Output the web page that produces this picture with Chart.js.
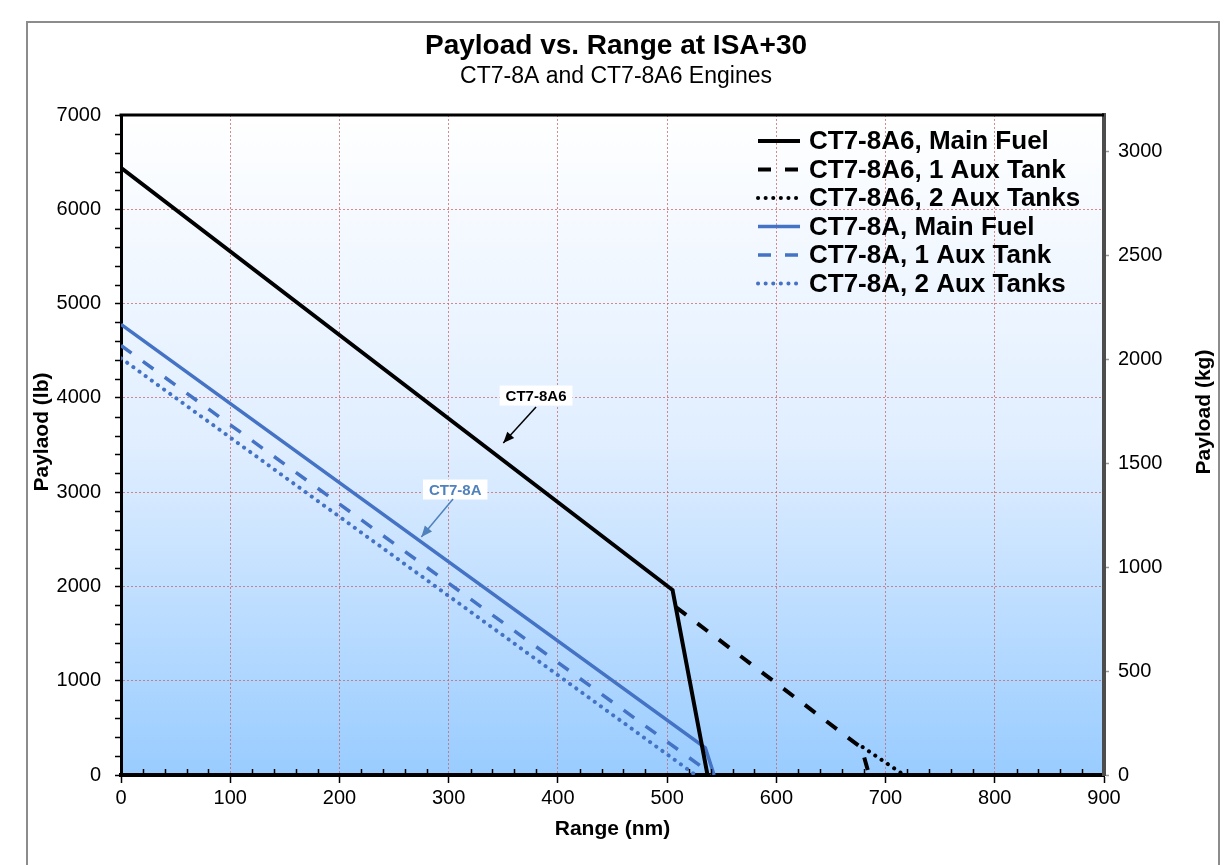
<!DOCTYPE html>
<html>
<head>
<meta charset="utf-8">
<title>Payload vs. Range at ISA+30</title>
<script src="https://cdn.jsdelivr.net/npm/chart.js@4.4.1/dist/chart.umd.min.js"></script>
<style>
  body { margin: 0; background: #fff; }
  canvas { display: block; }
</style>
</head>
<body>
<canvas id="chart" width="1232" height="865"></canvas>
<script>
// range (nm) and payload (lb)
const a6MainX = [0, 505, 537];
const a6MainY = [6440, 1962, 0];
const a6Aux1X = [508, 678, 685];
const a6Aux1Y = [1781, 288, 0];
const a6Aux2X = [679, 717];
const a6Aux2Y = [297, 0];
const a8MainX = [0, 535, 543];
const a8MainY = [4780, 288, 0];
const a8Aux1X = [0, 542];
const a8Aux1Y = [4555, 0];
const a8Aux2X = [0, 526];
const a8Aux2Y = [4420, 0];

const seriesNames = [
  'CT7-8A6, Main Fuel', 'CT7-8A6, 1 Aux Tank', 'CT7-8A6, 2 Aux Tanks',
  'CT7-8A, Main Fuel', 'CT7-8A, 1 Aux Tank', 'CT7-8A, 2 Aux Tanks'
];

const rangeMax = 900, rangeStep = 100, rangeMinorStep = 20;
const lbMax = 7000, lbStep = 1000, lbMinorStep = 200;
const kgTicks = [0, 500, 1000, 1500, 2000, 2500, 3000];
const LB_TO_KG = 0.45359237;

const BLACK = '#000000';
const BLUE = '#4472c4';
const FONT = "'Liberation Sans', Arial, sans-serif";
Chart.defaults.font.family = FONT;
Chart.defaults.color = '#000';

// label boxes with arrows, in data units
const notes = [
  { text: 'CT7-8A6', color: '#000', at: [380, 4024], from: [380, 3902], to: [350, 3521] },
  { text: 'CT7-8A', color: '#4f81bd', at: [306, 3028], from: [304, 2927], to: [275, 2524] }
];

function pts(xs, ys) {
  return xs.map((x, i) => ({ x: x, y: ys[i] }));
}

function series(label, xs, ys, color, style) {
  const ds = {
    label: label,
    data: pts(xs, ys),
    borderColor: color,
    backgroundColor: color,
    borderWidth: color === BLACK ? 4 : 3.5,
    pointRadius: 0,
    fill: false,
    tension: 0
  };
  if (style === 'dash') {
    ds.borderDash = [13, 14];
  } else if (style === 'dot') {
    ds.borderDash = [0.1, 7.5];
    ds.borderCapStyle = 'round';
    ds.borderWidth = 4;
  }
  return ds;
}

const frame = {
  id: 'frame',
  beforeDraw(chart) {
    const { ctx, chartArea: a } = chart;
    ctx.save();
    ctx.fillStyle = '#fff';
    ctx.fillRect(0, 0, chart.width, chart.height);
    const grad = ctx.createLinearGradient(0, a.top, 0, a.bottom);
    grad.addColorStop(0, '#ffffff');
    grad.addColorStop(0.5, '#e0eeff');
    grad.addColorStop(1, '#99ccff');
    ctx.fillStyle = grad;
    ctx.fillRect(a.left, a.top, a.right - a.left, a.bottom - a.top);
    // outer chart border
    ctx.strokeStyle = '#8c8c8c';
    ctx.lineWidth = 2;
    ctx.beginPath();
    ctx.moveTo(27, chart.height);
    ctx.lineTo(27, 22);
    ctx.lineTo(1219, 22);
    ctx.lineTo(1219, chart.height);
    ctx.stroke();
    ctx.restore();
  },
  afterDraw(chart) {
    const { ctx, chartArea: a, scales } = chart;
    const sx = scales.x, sy = scales.y;
    ctx.save();

    // top edge of plot
    ctx.strokeStyle = '#000';
    ctx.lineWidth = 3;
    ctx.beginPath();
    ctx.moveTo(a.left - 1.5, a.top);
    ctx.lineTo(a.right, a.top);
    ctx.stroke();

    // minor ticks
    ctx.lineWidth = 1.5;
    ctx.beginPath();
    for (let v = rangeMinorStep; v < rangeMax; v += rangeMinorStep) {
      if (v % rangeStep === 0) continue;
      const px = Math.round(sx.getPixelForValue(v)) + 0.5;
      ctx.moveTo(px, a.bottom);
      ctx.lineTo(px, a.bottom - 6);
    }
    for (let v = lbMinorStep; v < lbMax; v += lbMinorStep) {
      if (v % lbStep === 0) continue;
      const py = Math.round(sy.getPixelForValue(v)) + 0.5;
      ctx.moveTo(a.left, py);
      ctx.lineTo(a.left - 6, py);
    }
    ctx.stroke();

    // annotations
    notes.forEach(n => {
      const lx = sx.getPixelForValue(n.at[0]), ly = sy.getPixelForValue(n.at[1]);
      const fx = sx.getPixelForValue(n.from[0]), fy = sy.getPixelForValue(n.from[1]);
      const tx = sx.getPixelForValue(n.to[0]), ty = sy.getPixelForValue(n.to[1]);
      ctx.font = 'bold 15px ' + FONT;
      const w = ctx.measureText(n.text).width + 12;
      ctx.fillStyle = '#fff';
      ctx.fillRect(lx - w / 2, ly - 10, w, 20);
      ctx.fillStyle = n.color;
      ctx.textAlign = 'center';
      ctx.textBaseline = 'middle';
      ctx.fillText(n.text, lx, ly + 1);
      ctx.strokeStyle = n.color;
      ctx.lineWidth = 1.5;
      ctx.beginPath();
      ctx.moveTo(fx, fy);
      ctx.lineTo(tx, ty);
      ctx.stroke();
      const ang = Math.atan2(ty - fy, tx - fx);
      ctx.beginPath();
      ctx.moveTo(tx, ty);
      ctx.lineTo(tx - 12 * Math.cos(ang - 0.4), ty - 12 * Math.sin(ang - 0.4));
      ctx.lineTo(tx - 12 * Math.cos(ang + 0.4), ty - 12 * Math.sin(ang + 0.4));
      ctx.closePath();
      ctx.fill();
    });

    // legend
    const lx0 = 758, ly0 = 141, rowH = 28.5;
    ctx.font = 'bold 26px ' + FONT;
    ctx.textAlign = 'left';
    ctx.textBaseline = 'middle';
    chart.data.datasets.forEach((ds, i) => {
      const y = ly0 + i * rowH;
      ctx.strokeStyle = ds.borderColor;
      ctx.lineWidth = ds.borderWidth;
      ctx.lineCap = ds.borderCapStyle || 'butt';
      ctx.setLineDash(ds.borderDash || []);
      ctx.beginPath();
      ctx.moveTo(lx0, y);
      ctx.lineTo(lx0 + 42, y);
      ctx.stroke();
      ctx.setLineDash([]);
      ctx.fillStyle = '#000';
      ctx.fillText(ds.label, lx0 + 51, y + 1);
    });

    // axis titles on both sides, reading upwards
    ctx.font = 'bold 21px ' + FONT;
    ctx.textAlign = 'center';
    ctx.fillStyle = '#000';
    [['Paylaod (lb)', 42, 432], ['Payload (kg)', 1204, 412]].forEach(t => {
      ctx.save();
      ctx.translate(t[1], t[2]);
      ctx.rotate(-Math.PI / 2);
      ctx.fillText(t[0], 0, 0);
      ctx.restore();
    });
    ctx.restore();
  }
};

const gridLook = {
  color: 'rgba(200, 100, 100, 0.75)',
  lineWidth: 1,
  tickColor: '#000',
  tickBorderDash: [],
  tickWidth: 1.5
};

const ctx = document.getElementById('chart').getContext('2d');
new Chart(ctx, {
  type: 'line',
  data: {
    datasets: [
      series(seriesNames[0], a6MainX, a6MainY, BLACK, 'solid'),
      series(seriesNames[1], a6Aux1X, a6Aux1Y, BLACK, 'dash'),
      series(seriesNames[2], a6Aux2X, a6Aux2Y, BLACK, 'dot'),
      series(seriesNames[3], a8MainX, a8MainY, BLUE, 'solid'),
      series(seriesNames[4], a8Aux1X, a8Aux1Y, BLUE, 'dash'),
      series(seriesNames[5], a8Aux2X, a8Aux2Y, BLUE, 'dot')
    ]
  },
  options: {
    responsive: false,
    animation: false,
    layout: { padding: 0 },
    plugins: {
      legend: { display: false },
      tooltip: { enabled: false },
      title: {
        display: true,
        text: 'Payload vs. Range at ISA+30',
        font: { size: 28, weight: 'bold' },
        color: '#000',
        padding: { top: 29, bottom: 0 }
      },
      subtitle: {
        display: true,
        text: 'CT7-8A and CT7-8A6 Engines',
        font: { size: 23 },
        color: '#000',
        padding: { top: 0, bottom: 24.8 }
      }
    },
    scales: {
      x: {
        type: 'linear',
        min: 0,
        max: rangeMax,
        ticks: { stepSize: rangeStep, font: { size: 20 }, padding: 3, color: '#000', callback: v => String(v) },
        grid: Object.assign({ tickLength: 8 }, gridLook),
        border: { color: '#000', width: 4, dash: [2, 2] },
        title: {
          display: true,
          text: 'Range (nm)',
          font: { size: 21, weight: 'bold' },
          padding: { top: 0, bottom: 23 }
        },
        afterFit: s => { s.height = 90; }
      },
      y: {
        position: 'left',
        min: 0,
        max: lbMax,
        ticks: { stepSize: lbStep, font: { size: 20 }, padding: 14, color: '#000', callback: v => String(v) },
        grid: Object.assign({ tickLength: 6 }, gridLook),
        border: { color: '#000', width: 3, dash: [2, 2] },
        afterFit: s => { s.width = 121; }
      },
      y2: {
        type: 'linear',
        position: 'right',
        min: 0,
        max: lbMax * LB_TO_KG,
        ticks: { font: { size: 20 }, padding: 9, color: '#000', callback: v => String(v) },
        afterBuildTicks: s => { s.ticks = kgTicks.map(v => ({ value: v })); },
        grid: { drawOnChartArea: false, tickLength: 5, tickColor: '#999', tickWidth: 1.5 },
        border: { color: '#4d4d4d', width: 4 },
        afterFit: s => { s.width = 128; }
      }
    }
  },
  plugins: [frame]
});
</script>
</body>
</html>
